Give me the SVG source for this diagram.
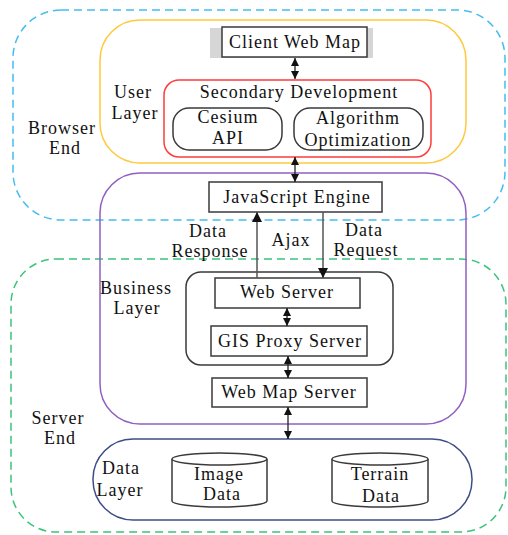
<svg xmlns="http://www.w3.org/2000/svg" width="508" height="535" viewBox="0 0 508 535">
  <style>
    text { font-family: "Liberation Serif", "Times New Roman", serif; font-size: 18px; fill: #111; text-anchor: middle; letter-spacing: 1px; }
    .end { fill: none; stroke-width: 1.5; stroke-dasharray: 8 5; }
    .layer { fill: none; stroke-width: 1.5; }
    .box { fill: #fff; stroke: #3a3a3a; stroke-width: 1.5; }
    .rbox { fill: none; stroke: #3a3a3a; stroke-width: 1.5; }
    .cyl { fill: #fff; stroke: #3a3a3a; stroke-width: 1.5; }
    .link { stroke: #222; stroke-width: 1.3; fill: none; }
    .flow { stroke: #555; stroke-width: 1.5; fill: none; }
  </style>
  <defs>
    <marker id="head" viewBox="0 0 10 10" refX="10" refY="5" markerWidth="8" markerHeight="8" markerUnits="userSpaceOnUse" orient="auto-start-reverse">
      <path d="M0,0 L10,5 L0,10 Z" fill="#111"/>
    </marker>
    <marker id="headBig" viewBox="0 0 10 10" refX="10" refY="5" markerWidth="10" markerHeight="10" markerUnits="userSpaceOnUse" orient="auto">
      <path d="M0,0 L10,5 L0,10 Z" fill="#111"/>
    </marker>
  </defs>

  <!-- end regions -->
  <g id="browser-end">
    <rect class="end" x="13" y="10" width="492" height="210" rx="48" stroke="#45bdf0"/>
    <text x="62" y="134">Browser</text>
    <text x="65" y="154">End</text>
  </g>
  <g id="server-end">
    <rect class="end" x="11" y="259" width="495" height="273" rx="45" stroke="#3cc47c"/>
    <text x="58" y="424">Server</text>
    <text x="60" y="444">End</text>
  </g>

  <!-- layers -->
  <g id="user-layer">
    <rect class="layer" x="100" y="20" width="366" height="143" rx="40" stroke="#ffc83d"/>
    <text x="133" y="98">User</text>
    <text x="135" y="119">Layer</text>
  </g>
  <g id="business-layer">
    <rect class="layer" x="100" y="173" width="366" height="251" rx="40" stroke="#9060c0"/>
    <text x="136" y="294">Business</text>
    <text x="137" y="314">Layer</text>
  </g>
  <g id="data-layer">
    <rect class="layer" x="93" y="439" width="379" height="81" rx="40" stroke="#3d4d85"/>
    <text x="121" y="474">Data</text>
    <text x="120" y="496">Layer</text>
  </g>

  <!-- browser side nodes -->
  <g id="client-web-map">
    <rect x="210" y="28" width="163" height="30" fill="#d6d6d6"/>
    <rect class="box" x="222" y="27" width="145" height="30"/>
    <text x="295" y="48">Client Web Map</text>
  </g>
  <g id="secondary-development">
    <rect x="164" y="80" width="267" height="77" rx="15" fill="none" stroke="#ff3b3b" stroke-width="1.5"/>
    <text x="299" y="98">Secondary Development</text>
  </g>
  <g id="cesium-api">
    <rect class="rbox" x="173" y="108" width="109" height="42" rx="16"/>
    <text x="228" y="123">Cesium</text>
    <text x="228" y="144">API</text>
  </g>
  <g id="algorithm-optimization">
    <rect class="rbox" x="294" y="108" width="129" height="42" rx="16"/>
    <text x="358" y="124">Algorithm</text>
    <text x="358" y="146">Optimization</text>
  </g>
  <g id="javascript-engine">
    <rect class="box" x="209" y="182" width="173" height="30"/>
    <text x="297" y="203">JavaScript Engine</text>
  </g>

  <!-- server side nodes -->
  <g id="server-cluster">
    <rect class="rbox" x="186" y="272" width="207" height="93" rx="15"/>
  </g>
  <g id="web-server">
    <rect class="box" x="215" y="278" width="145" height="30"/>
    <text x="287" y="298">Web Server</text>
  </g>
  <g id="gis-proxy-server">
    <rect class="box" x="211" y="326" width="156" height="30"/>
    <text x="290" y="347">GIS Proxy Server</text>
  </g>
  <g id="web-map-server">
    <rect class="box" x="212" y="378" width="155" height="29"/>
    <text x="289" y="398">Web Map Server</text>
  </g>
  <g id="image-data">
    <path class="cyl" d="M172,459 L172,501 A47.5,6 0 0 0 267,501 L267,459 A47.5,6 0 0 0 172,459 Z"/>
    <path class="cyl" d="M172,459 A47.5,6 0 0 0 267,459"/>
    <text x="219" y="480">Image</text>
    <text x="222" y="500">Data</text>
  </g>
  <g id="terrain-data">
    <path class="cyl" d="M332,459 L332,501 A48,6 0 0 0 428,501 L428,459 A48,6 0 0 0 332,459 Z"/>
    <path class="cyl" d="M332,459 A48,6 0 0 0 428,459"/>
    <text x="380" y="480">Terrain</text>
    <text x="381" y="502">Data</text>
  </g>

  <!-- connectors -->
  <g id="connectors">
    <line class="link" x1="295" y1="58" x2="295" y2="79" marker-start="url(#head)" marker-end="url(#head)"/>
    <line class="link" x1="295" y1="157" x2="295" y2="182" marker-start="url(#head)" marker-end="url(#head)"/>
    <line class="flow" x1="257" y1="278" x2="257" y2="212" marker-end="url(#headBig)"/>
    <line class="flow" x1="323" y1="212" x2="323" y2="278" marker-end="url(#headBig)"/>
    <line class="link" x1="287" y1="308" x2="287" y2="326" marker-start="url(#head)" marker-end="url(#head)"/>
    <line class="link" x1="288" y1="356" x2="288" y2="378" marker-start="url(#head)" marker-end="url(#head)"/>
    <line class="link" x1="288" y1="407" x2="288" y2="439" marker-start="url(#head)" marker-end="url(#head)"/>
    <text x="208" y="237">Data</text>
    <text x="210" y="257">Response</text>
    <text x="291" y="246">Ajax</text>
    <text x="364" y="236">Data</text>
    <text x="366" y="256">Request</text>
  </g>
</svg>
